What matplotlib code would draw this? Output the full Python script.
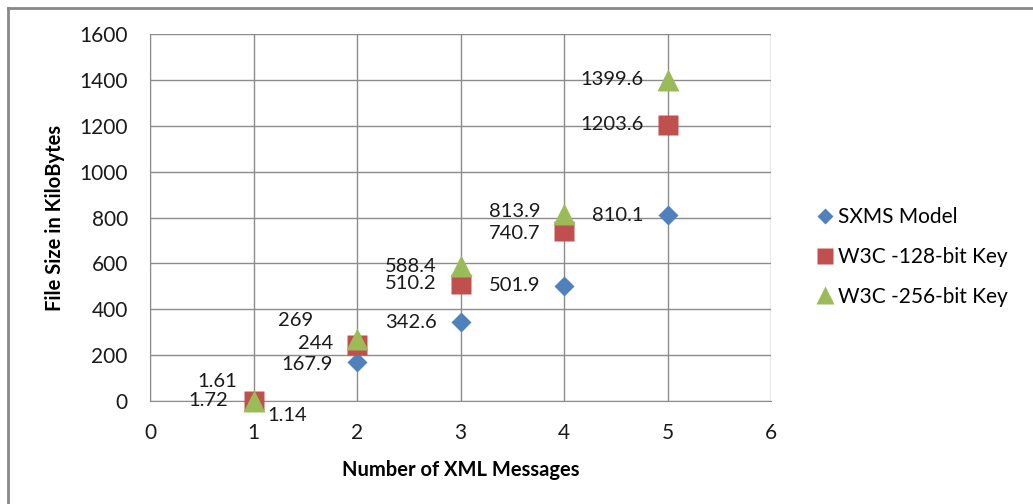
import matplotlib

matplotlib.use("Agg")
import matplotlib.pyplot as plt
from matplotlib.lines import Line2D

plt.rcParams["font.family"] = ["Lato", "DejaVu Sans"]

messages = [1, 2, 3, 4, 5]
sxms = [1.14, 167.9, 342.6, 501.9, 810.1]
w3c_128 = [1.72, 244, 510.2, 740.7, 1203.6]
w3c_256 = [1.61, 269, 588.4, 813.9, 1399.6]

series_names = ["SXMS Model", "W3C -128-bit Key", "W3C -256-bit Key"]
colors = ["#4F81BD", "#C0504D", "#9BBB59"]
markers = ["D", "s", "^"]
marker_sizes = [10, 14, 16]

# label offsets in pixels (dx to text anchor, dy), default is left of the marker
default_off = (-24, 0, "right")
label_offsets = {
    (0, 0): (14, -15, "left"),
    (0, 1): (-24, -2, "right"),
    (1, 0): (-25, 0, "right"),
    (1, 1): (-24, 2, "right"),
    (1, 3): (-24, -2, "right"),
    (2, 0): (-16, 19, "right"),
    (2, 1): (-44, 19, "right"),
    (2, 3): (-24, 3, "right"),
}

W, H = 1033, 504
fig = plt.figure(figsize=(W / 100, H / 100), dpi=100)
ax = fig.add_axes([150 / W, 1 - 401 / H, (771 - 150) / W, (401 - 34) / H])

for si, ys in enumerate([sxms, w3c_128, w3c_256]):
    ax.plot(messages, ys, linestyle="none", marker=markers[si], ms=marker_sizes[si],
            color=colors[si], markeredgecolor="none", zorder=3, clip_on=False)
    for pi, (x, y) in enumerate(zip(messages, ys)):
        dx, dy, ha = label_offsets.get((si, pi), default_off)
        ax.annotate(f"{y:g}", (x, y), xytext=(dx, dy), textcoords="offset pixels",
                    ha=ha, va="center", fontsize=14.5, color="#1a1a1a", zorder=4)

ax.set_xlim(0, 6)
ax.set_ylim(0, 1600)
ax.set_xticks(range(0, 7))
ax.set_yticks(range(0, 1601, 200))
ax.grid(True, color="#8c8c8c", linewidth=1)
ax.set_axisbelow(True)
ax.tick_params(axis="y", length=0, labelsize=15, colors="#1a1a1a", pad=16)
ax.tick_params(axis="x", length=0, labelsize=15, colors="#1a1a1a", pad=16)
for side in ["top", "right"]:
    ax.spines[side].set_visible(False)
for side in ["left", "bottom"]:
    ax.spines[side].set_color("#8c8c8c")

ax.set_xlabel("Number of XML Messages", fontsize=14.5, fontweight="bold", labelpad=12)
ax.set_ylabel("File Size in KiloBytes", fontsize=14.5, fontweight="bold", labelpad=10)

handles = [Line2D([], [], linestyle="none", marker=m, color=c, ms=ms * 0.85, markeredgecolor="none")
           for m, c, ms in zip(markers, colors, marker_sizes)]
fig.legend(handles, series_names, loc="center left", bbox_to_anchor=(800 / W, 1 - 257 / H),
           frameon=False, fontsize=15, handlelength=0.6, handletextpad=0.3, labelspacing=0.95)

# outer chart frame: top and left edges only
fig.add_artist(Line2D([8 / W, 1.0], [1 - 8 / H, 1 - 8 / H], color="#888888", linewidth=2))
fig.add_artist(Line2D([8 / W, 8 / W], [0.0, 1 - 8 / H], color="#888888", linewidth=2))

fig.savefig("out.png", dpi=100)
